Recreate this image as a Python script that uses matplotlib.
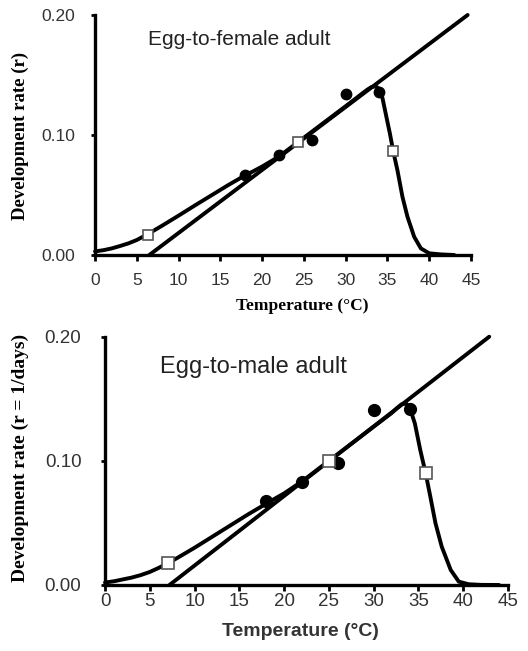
import matplotlib
matplotlib.use('Agg')
import matplotlib.pyplot as plt

# observed development rates (filled circles)
temp_obs = [18, 22, 26, 30, 34]
female_obs = [0.067, 0.083, 0.096, 0.134, 0.136]
male_obs = [0.0673, 0.0833, 0.098, 0.1407, 0.142]

# estimated points (open squares): lower threshold, optimum, upper limit
female_sq_t = [6.3, 24.3, 35.7]
female_sq_r = [0.017, 0.094, 0.0863]
male_sq_t = [7.0, 25.0, 35.8]
male_sq_r = [0.0175, 0.100, 0.090]

# linear model (degree-day line)
female_lin_t = [6.5, 44.6]
female_lin_r = [0.0, 0.20]
male_lin_t = [7.2, 42.9]
male_lin_r = [0.0, 0.20]

# nonlinear model curves
female_curve_t = [0, 1, 2, 3, 4, 5, 6, 7, 8, 10, 12, 14, 16, 18, 19, 20, 22, 24, 26, 28,
                  30, 31, 32, 32.6, 33.1, 33.6, 34.0, 34.4, 34.8, 35.3, 35.7, 36.2, 36.8,
                  37.4, 38.2, 39.0, 40.0, 41.4, 43.0]
female_curve_r = [0.003, 0.004, 0.0055, 0.0075, 0.0097, 0.0125, 0.0162, 0.0202, 0.0243,
                  0.0328, 0.0415, 0.050, 0.0585, 0.0665, 0.070, 0.0737, 0.082, 0.0925,
                  0.103, 0.1135, 0.124, 0.1293, 0.1347, 0.1378, 0.1400, 0.1405, 0.1385,
                  0.131, 0.1176, 0.101, 0.0863, 0.0705, 0.0484, 0.0318, 0.0152, 0.0055,
                  0.0014, 0.0005, 0.0]
male_curve_t = [0, 1, 2, 3, 4, 5, 6, 7, 8, 10, 12, 14, 16, 18, 19, 20, 22, 24, 26, 28,
                30, 31, 32, 32.6, 33.1, 33.6, 34.0, 34.6, 35.2, 35.8, 36.3, 36.9, 37.6,
                38.6, 39.5, 40.6, 42.0, 44.0]
male_curve_r = [0.002, 0.003, 0.0045, 0.006, 0.008, 0.0105, 0.0138, 0.0175, 0.0215, 0.030,
                0.039, 0.048, 0.057, 0.0655, 0.0697, 0.0738, 0.0835, 0.0945, 0.1055,
                0.1165, 0.1275, 0.133, 0.1385, 0.1425, 0.1455, 0.1462, 0.1435, 0.130,
                0.1087, 0.090, 0.072, 0.0497, 0.0308, 0.0121, 0.0027, 0.0006, 0.0001, 0.0]

x_ticks = [0, 5, 10, 15, 20, 25, 30, 35, 40, 45]
y_ticks = [0.0, 0.1, 0.2]
y_tick_labels = ['0.00', '0.10', '0.20']

fig = plt.figure(figsize=(5.28, 6.51), dpi=100)
ax1 = fig.add_axes([0.180, 0.6083, 0.712, 0.3687])
ax2 = fig.add_axes([0.1989, 0.1014, 0.7633, 0.3814])


def draw_panel(ax, lin_t, lin_r, cur_t, cur_r, obs_r, sq_t, sq_r, circ_ms, sq_ms):
    ax.plot(lin_t, lin_r, color='black', lw=2.8, clip_on=False, zorder=3,
            solid_capstyle='round')
    ax.plot(cur_t, cur_r, color='black', lw=2.8, clip_on=False, zorder=3,
            solid_joinstyle='round', solid_capstyle='round')
    ax.plot(temp_obs, obs_r, 'o', color='black', ms=circ_ms, zorder=4, clip_on=False)
    ax.plot(sq_t, sq_r, 's', mfc='white', mec='#555555', mew=1.2, ms=sq_ms, zorder=5,
            clip_on=False)
    ax.set_xlim(0, 45)
    ax.set_ylim(0, 0.2)
    ax.set_xticks(x_ticks)
    ax.set_yticks(y_ticks)
    ax.set_yticklabels(y_tick_labels)
    for s in ['top', 'right']:
        ax.spines[s].set_visible(False)
    for s in ['left', 'bottom']:
        ax.spines[s].set_linewidth(2.4)
        ax.spines[s].set_color('black')


draw_panel(ax1, female_lin_t, female_lin_r, female_curve_t, female_curve_r, female_obs,
           female_sq_t, female_sq_r, 7.5, 7.5)
draw_panel(ax2, male_lin_t, male_lin_r, male_curve_t, male_curve_r, male_obs,
           male_sq_t, male_sq_r, 8.5, 9)

# top panel
ax1.tick_params(axis='x', direction='out', length=4, width=2, pad=9,
                labelsize=12.5, labelcolor='#333333')
ax1.tick_params(axis='y', direction='out', length=3, width=2, pad=11,
                labelsize=12.5, labelcolor='#333333')
ax1.set_xlabel('Temperature (°C)', family='Liberation Serif', weight='bold', fontsize=12.5)
ax1.xaxis.set_label_coords(0.55, -0.18)
ax1.set_ylabel('Development rate (r)', family='Liberation Serif', weight='bold',
               fontsize=13.5, va='center')
ax1.yaxis.set_label_coords(-0.2, 0.497)
ax1.text(0.141, 0.896, 'Egg-to-female adult', transform=ax1.transAxes,
         family='Liberation Sans', fontsize=15, color='#222222', va='center')

# bottom panel
ax2.tick_params(axis='x', direction='out', length=4, width=2, pad=2,
                labelsize=13.5, labelcolor='#333333')
ax2.tick_params(axis='y', direction='out', length=3, width=2, pad=14,
                labelsize=13.5, labelcolor='#333333')
ax2.set_xlabel('Temperature (°C)', family='Liberation Sans', weight='bold', fontsize=14,
               color='#333333')
ax2.xaxis.set_label_coords(0.485, -0.155)
ax2.set_ylabel('Development rate (r = 1/days)', family='Liberation Serif', weight='bold',
               fontsize=14, va='center')
ax2.yaxis.set_label_coords(-0.211, 0.513)
ax2.text(0.136, 0.879, 'Egg-to-male adult', transform=ax2.transAxes,
         family='Liberation Sans', fontsize=17, color='#222222', va='center')

for ax in [ax1, ax2]:
    for lab in ax.get_xticklabels() + ax.get_yticklabels():
        lab.set_family('Liberation Sans')

fig.savefig('out.png', dpi=100)
